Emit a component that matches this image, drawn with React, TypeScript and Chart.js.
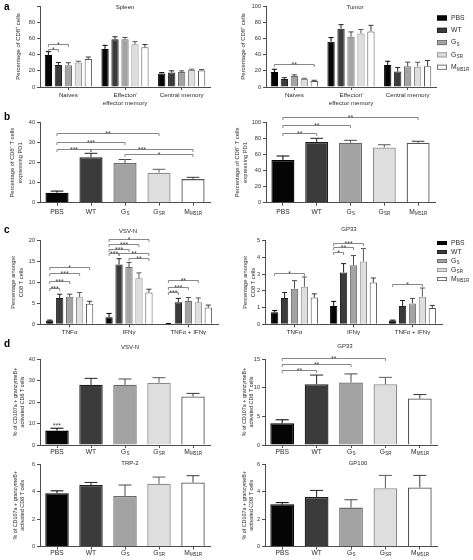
import React, { useEffect, useRef } from "react";
import { Chart, registerables } from "chart.js";
Chart.register(...registerables);

const W = 473;
const H = 560;
const YW = 28;
const FONT = "'Liberation Sans', Arial, Helvetica, sans-serif";
const AXIS = "#4d4d4d";
const TEXT = "#2a2a2a";
const BRACKET = "#6a6a6a";

// ---- groups ----
const groupNames = ["PBS", "WT", "G", "G", "M"];
const groupSubs = ["", "", "S", "SR", "M51R"];
const groupFills = ["#050505", "#3b3b3b", "#a3a3a3", "#dedede", "#ffffff"];
const groupBorders = ["#000000", "#1e1e1e", "#6a6a6a", "#8c8c8c", "#555555"];
const errColors = ["#000000", "#222222", "#4a4a4a", "#5a5a5a", "#3a3a3a"];

// ---- categories ----
const subsetLabels = [["Naives"], ["Effector/", "effector memory"], ["Central memory"]];
const cytokineLabels = [["TNFα"], ["IFNγ"], ["TNFα + IFNγ"]];

// ---- panel a : Spleen ----
const spleenMean = [
  [39.6, 47.0, 16.8],
  [27.3, 58.8, 18.0],
  [27.0, 58.8, 18.4],
  [30.2, 52.7, 21.0],
  [34.7, 49.0, 20.4],
];
const spleenErr = [
  [4.1, 4.4, 1.0],
  [2.9, 3.2, 2.0],
  [3.0, 2.4, 1.5],
  [1.6, 3.3, 1.0],
  [2.3, 3.5, 1.0],
];
const spleenSig = [
  { from: [0, 0], to: [1, 0], y: 46.5, label: "*" },
  { from: [0, 0], to: [2, 0], y: 53.4, label: "*" },
];

// ---- panel a : Tumor ----
const tumorMean = [
  [18.4, 56.0, 27.3],
  [10.0, 72.0, 19.0],
  [13.5, 62.0, 25.7],
  [10.0, 66.0, 25.0],
  [7.5, 68.6, 25.7],
];
const tumorErr = [
  [3.5, 5.0, 4.5],
  [1.5, 5.0, 5.0],
  [1.5, 6.0, 5.0],
  [0.8, 5.0, 5.5],
  [0.8, 7.5, 7.0],
];
const tumorSig = [{ from: [0, 0], to: [4, 0], y: 28.4, label: "**" }];

// ---- panel b ----
const pd1SpleenMean = [5.0, 22.7, 19.8, 15.0, 11.8];
const pd1SpleenErr = [0.8, 2.0, 1.8, 1.7, 0.9];
const pd1SpleenSig = [
  { from: [0, 0], to: [0, 3], y: 34.9, label: "**" },
  { from: [0, 0], to: [0, 2], y: 30.5, label: "***" },
  { from: [0, 0], to: [0, 1], y: 26.7, label: "***" },
  { from: [0, 1], to: [0, 4], y: 26.7, label: "***" },
  { from: [0, 2], to: [0, 4], y: 24.4, label: "*" },
];
const pd1TumorMean = [53.0, 75.5, 74.5, 68.5, 74.5];
const pd1TumorErr = [5.0, 4.5, 3.0, 3.5, 1.8];
const pd1TumorSig = [
  { from: [0, 0], to: [0, 4], y: 106, label: "**" },
  { from: [0, 0], to: [0, 2], y: 97, label: "**" },
  { from: [0, 0], to: [0, 1], y: 87, label: "**" },
];

// ---- panel c ----
const vsvMean = [
  [0.9, 1.7, 0.15],
  [6.3, 14.3, 5.3],
  [6.6, 13.7, 5.6],
  [6.5, 11.0, 5.3],
  [4.9, 7.6, 4.0],
];
const vsvErr = [
  [0.1, 0.9, 0.05],
  [0.9, 1.4, 0.9],
  [0.6, 1.1, 0.8],
  [1.1, 1.3, 1.0],
  [0.6, 0.8, 0.6],
];
const vsvSig = [
  { from: [0, 0], to: [1, 0], y: 8.6, label: "***" },
  { from: [0, 0], to: [2, 0], y: 10.4, label: "***" },
  { from: [0, 0], to: [3, 0], y: 12.2, label: "***" },
  { from: [0, 0], to: [4, 0], y: 13.8, label: "*" },
  { from: [0, 1], to: [4, 1], y: 20.3, label: "*" },
  { from: [0, 1], to: [3, 1], y: 19.2, label: "***" },
  { from: [0, 1], to: [2, 1], y: 18.1, label: "***" },
  { from: [0, 1], to: [1, 1], y: 17.0, label: "***" },
  { from: [1, 1], to: [4, 1], y: 17.0, label: "**" },
  { from: [2, 1], to: [4, 1], y: 15.9, label: "**" },
  { from: [0, 2], to: [1, 2], y: 7.8, label: "***" },
  { from: [0, 2], to: [2, 2], y: 9.0, label: "***" },
  { from: [0, 2], to: [3, 2], y: 10.6, label: "**" },
];
const gp33Mean = [
  [0.72, 1.1, 0.22],
  [1.57, 3.1, 1.1],
  [2.13, 3.53, 1.25],
  [2.25, 3.75, 1.65],
  [1.6, 2.5, 0.98],
];
const gp33Err = [
  [0.1, 0.27, 0.03],
  [0.33, 0.53, 0.32],
  [0.48, 0.58, 0.3],
  [0.58, 0.78, 0.52],
  [0.22, 0.27, 0.15],
];
const gp33Sig = [
  { from: [0, 0], to: [3, 0], y: 3.05, label: "*" },
  { from: [0, 1], to: [1, 1], y: 4.34, label: "*" },
  { from: [0, 1], to: [2, 1], y: 4.6, label: "**" },
  { from: [0, 1], to: [3, 1], y: 4.86, label: "***" },
  { from: [0, 2], to: [3, 2], y: 2.41, label: "*" },
];

// ---- panel d ----
const vsvCytoMean = [6.7, 28.0, 28.0, 29.0, 22.6];
const vsvCytoErr = [1.1, 3.0, 2.7, 2.3, 1.4];
const vsvCytoSig = [{ from: [0, 0], to: [0, 0], y: 9.4, label: "***" }];
const gp33CytoMean = [3.8, 10.6, 10.9, 10.6, 8.1];
const gp33CytoErr = [0.6, 1.6, 1.5, 1.2, 0.7];
const gp33CytoSig = [
  { from: [0, 0], to: [0, 1], y: 13.05, label: "**" },
  { from: [0, 0], to: [0, 2], y: 14.1, label: "**" },
  { from: [0, 0], to: [0, 3], y: 15.2, label: "**" },
];
const trp2Mean = [3.88, 4.47, 3.67, 4.56, 4.66];
const trp2Err = [0.17, 0.19, 0.8, 0.49, 0.49];
const gp100Mean = [3.07, 3.6, 2.83, 4.24, 4.3];
const gp100Err = [0.12, 0.48, 0.57, 0.93, 0.87];

// ---- helpers ----
type Line = { main: string; sub: string };
const groupLines = (): Line[][] => groupNames.map((n, i) => [{ main: n, sub: groupSubs[i] }]);
const plainLines = (cats: string[][]): Line[][] => cats.map((c) => c.map((t) => ({ main: t, sub: "" })));

function drawSub(ctx: any, main: string, sub: string, x: number, y: number, size: number, align: string) {
  ctx.font = `${size}px ${FONT}`;
  const mw = ctx.measureText(main).width;
  const ss = size * 0.68;
  ctx.font = `${ss}px ${FONT}`;
  const sw = sub ? ctx.measureText(sub).width : 0;
  const total = mw + sw;
  const sx = align === "center" ? x - total / 2 : x;
  ctx.textAlign = "left";
  ctx.textBaseline = "middle";
  ctx.font = `${size}px ${FONT}`;
  ctx.fillText(main, sx, y);
  if (sub) {
    ctx.font = `${ss}px ${FONT}`;
    ctx.fillText(sub, sx + mw + 0.3, y + size * 0.32);
  }
}

function makePlugins(spec: any) {
  const errPlugin = {
    id: "errbars",
    afterDatasetsDraw(chart: any) {
      const ctx = chart.ctx;
      const ys = chart.scales.y;
      ctx.save();
      chart.data.datasets.forEach((ds: any, di: number) => {
        const meta = chart.getDatasetMeta(di);
        meta.data.forEach((el: any, i: number) => {
          const e = spec.grouped ? spec.errs[di][i] : spec.errs[0][i];
          if (!e) return;
          const v = ds.data[i];
          const top = ys.getPixelForValue(v + e);
          const half = (el.width * spec.cap) / 2;
          ctx.strokeStyle = spec.grouped ? errColors[di] : errColors[i];
          ctx.lineWidth = 1;
          ctx.beginPath();
          ctx.moveTo(el.x, el.y);
          ctx.lineTo(el.x, top);
          ctx.moveTo(el.x - half, top);
          ctx.lineTo(el.x + half, top);
          ctx.stroke();
        });
      });
      ctx.restore();
    },
  };
  const decor = {
    id: "decor",
    afterDraw(chart: any) {
      const ctx = chart.ctx;
      const xs = chart.scales.x;
      const ys = chart.scales.y;
      const ca = chart.chartArea;
      ctx.save();
      ctx.fillStyle = TEXT;
      spec.xLabels.forEach((lines: Line[], i: number) => {
        const x = xs.getPixelForValue(i);
        lines.forEach((ln, li) => drawSub(ctx, ln.main, ln.sub, x, spec.labelY + li * 8, spec.labelSize, "center"));
      });
      if (spec.title) {
        ctx.font = `${spec.title.size || 6}px ${FONT}`;
        ctx.textAlign = "center";
        ctx.textBaseline = "middle";
        ctx.fillText(spec.title.text, spec.title.x, spec.title.y);
      }
      if (spec.letter) {
        ctx.font = `bold 10px ${FONT}`;
        ctx.textAlign = "left";
        ctx.textBaseline = "middle";
        ctx.fillStyle = "#000";
        ctx.fillText(spec.letter.text, spec.letter.x, spec.letter.y);
        ctx.fillStyle = TEXT;
      }
      const yt = spec.yTitle;
      const cy = (ca.top + ca.bottom) / 2;
      ctx.font = `${yt.size}px ${FONT}`;
      ctx.textAlign = "center";
      ctx.textBaseline = "middle";
      yt.lines.forEach((t: string, li: number) => {
        ctx.save();
        ctx.translate(yt.xs[li], cy);
        ctx.rotate(-Math.PI / 2);
        ctx.fillText(t, 0, 0);
        ctx.restore();
      });
      ctx.strokeStyle = BRACKET;
      ctx.lineWidth = 0.8;
      spec.sig.forEach((b: any) => {
        const x1 = chart.getDatasetMeta(b.from[0]).data[b.from[1]].x;
        const x2 = chart.getDatasetMeta(b.to[0]).data[b.to[1]].x;
        const yy = Math.round(ys.getPixelForValue(b.y)) + 0.5;
        if (x1 !== x2) {
          ctx.beginPath();
          ctx.moveTo(x1, yy + 2.5);
          ctx.lineTo(x1, yy);
          ctx.lineTo(x2, yy);
          ctx.lineTo(x2, yy + 2.5);
          ctx.stroke();
        }
        ctx.font = `7px ${FONT}`;
        ctx.textAlign = "center";
        ctx.textBaseline = "alphabetic";
        ctx.fillStyle = "#444";
        ctx.fillText(b.label, (x1 + x2) / 2, yy + 2.6);
      });
      if (spec.legend) {
        const L = spec.legend;
        groupNames.forEach((n, i) => {
          const yy = L.y + i * L.gap;
          ctx.fillStyle = groupFills[i];
          ctx.fillRect(L.x, yy - L.boxH / 2, L.boxW, L.boxH);
          ctx.strokeStyle = groupBorders[i];
          ctx.lineWidth = 0.8;
          ctx.strokeRect(L.x + 0.4, yy - L.boxH / 2 + 0.4, L.boxW - 0.8, L.boxH - 0.8);
          ctx.fillStyle = TEXT;
          drawSub(ctx, n, groupSubs[i], L.x + L.boxW + 4, yy, L.size, "left");
        });
      }
      ctx.restore();
    },
  };
  return [errPlugin, decor];
}

function buildConfig(spec: any) {
  const [x0, x1, top, bottom] = spec.box;
  const datasets = spec.grouped
    ? spec.means.map((row: number[], gi: number) => ({
        label: groupNames[gi] + groupSubs[gi],
        data: row,
        backgroundColor: groupFills[gi],
        borderColor: groupBorders[gi],
        borderWidth: 1,
        barPercentage: spec.barPct,
        categoryPercentage: spec.catPct,
      }))
    : [
        {
          label: "mean",
          data: spec.means[0],
          backgroundColor: groupFills,
          borderColor: groupBorders,
          borderWidth: 1.3,
          barPercentage: spec.barPct,
          categoryPercentage: spec.catPct,
        },
      ];
  const labels = spec.xLabels.map((_: any, i: number) => String(i));
  return {
    type: "bar",
    data: { labels, datasets },
    plugins: makePlugins(spec),
    options: {
      responsive: false,
      animation: false,
      devicePixelRatio: 1,
      events: [],
      layout: { padding: { left: x0 - YW, right: W - x1, top: top, bottom: H - bottom } },
      plugins: { legend: { display: false }, tooltip: { enabled: false }, title: { display: false } },
      scales: {
        x: {
          afterFit: (s: any) => {
            s.height = 0;
          },
          border: { display: true, color: AXIS, width: 1 },
          grid: { drawOnChartArea: false, drawTicks: true, tickLength: 3, color: AXIS, offset: false },
          ticks: { display: false },
        },
        y: {
          min: 0,
          max: spec.max,
          afterFit: (s: any) => {
            s.width = YW;
          },
          border: { display: true, color: AXIS, width: 1 },
          grid: { drawOnChartArea: false, drawTicks: true, tickLength: 3, color: AXIS },
          ticks: {
            stepSize: spec.step,
            font: { family: FONT, size: 5.6 },
            color: "#333",
            padding: 2,
            callback: (v: any) => (spec.hideMax && v === spec.max ? "" : String(v)),
          },
        },
      },
    },
  };
}

const dYTitle = ["% of CD107a + granzymeB+", "activated CD8 T cells"];

const panels: any[] = [
  {
    box: [40, 210, 6, 87], max: 100, step: 20, hideMax: true, grouped: true,
    means: spleenMean, errs: spleenErr, sig: spleenSig,
    xLabels: plainLines(subsetLabels), labelY: 95, labelSize: 6.2,
    title: { text: "Spleen", x: 125, y: 7 }, letter: { text: "a", x: 4, y: 7 },
    yTitle: { lines: ["Percentage of CD8⁺ cells"], xs: [18], size: 6 },
    barPct: 0.73, catPct: 0.88, cap: 0.7,
  },
  {
    box: [266, 436, 6, 87], max: 100, step: 20, grouped: true,
    means: tumorMean, errs: tumorErr, sig: tumorSig,
    xLabels: plainLines(subsetLabels), labelY: 95, labelSize: 6.2,
    title: { text: "Tumor", x: 355, y: 7 },
    yTitle: { lines: ["Percentage of CD8⁺ cells"], xs: [243], size: 6 },
    legend: { x: 437, y: 18, gap: 12.3, boxW: 10, boxH: 5, size: 6.8 },
    barPct: 0.73, catPct: 0.88, cap: 0.7,
  },
  {
    box: [40, 210, 122.7, 202.7], max: 40, step: 10, grouped: false,
    means: [pd1SpleenMean], errs: [pd1SpleenErr], sig: pd1SpleenSig,
    xLabels: groupLines(), labelY: 212, labelSize: 6.7,
    letter: { text: "b", x: 4, y: 117 },
    yTitle: { lines: ["Percentage of CD8⁺ T cells", "expressing PD1"], xs: [12, 20], size: 5.8 },
    barPct: 0.68, catPct: 1, cap: 0.55,
  },
  {
    box: [266, 435, 122.2, 202.7], max: 100, step: 20, grouped: false,
    means: [pd1TumorMean], errs: [pd1TumorErr], sig: pd1TumorSig,
    xLabels: groupLines(), labelY: 212, labelSize: 6.7,
    yTitle: { lines: ["Percentage of CD8⁺ T cells", "expressing PD1"], xs: [237, 245], size: 5.8 },
    barPct: 0.68, catPct: 1, cap: 0.55,
  },
  {
    box: [40, 218, 240.7, 324.3], max: 20, step: 5, grouped: true,
    means: vsvMean, errs: vsvErr, sig: vsvSig,
    xLabels: plainLines(cytokineLabels), labelY: 332.7, labelSize: 6.2,
    title: { text: "VSV-N", x: 128, y: 231 }, letter: { text: "c", x: 4, y: 230 },
    yTitle: { lines: ["Percentage amongst", "CD8 T cells"], xs: [13, 21], size: 5.7 },
    barPct: 0.73, catPct: 0.84, cap: 0.7,
  },
  {
    box: [265, 442, 240.7, 324.3], max: 5, step: 1, grouped: true,
    means: gp33Mean, errs: gp33Err, sig: gp33Sig,
    xLabels: plainLines(cytokineLabels), labelY: 332.7, labelSize: 6.2,
    title: { text: "GP33", x: 349, y: 229 },
    yTitle: { lines: ["Percentage amongst", "CD8 T cells"], xs: [245, 253], size: 5.7 },
    legend: { x: 437, y: 243, gap: 9, boxW: 10, boxH: 4, size: 6.8 },
    barPct: 0.73, catPct: 0.84, cap: 0.7,
  },
  {
    box: [40, 210, 359, 445], max: 40, step: 10, grouped: false,
    means: [vsvCytoMean], errs: [vsvCytoErr], sig: vsvCytoSig,
    xLabels: groupLines(), labelY: 452, labelSize: 6.7,
    title: { text: "VSV-N", x: 130, y: 347 }, letter: { text: "d", x: 4, y: 344 },
    yTitle: { lines: dYTitle, xs: [16, 23], size: 5.4 },
    barPct: 0.69, catPct: 1, cap: 0.55,
  },
  {
    box: [265, 437, 359, 445], max: 15, step: 5, grouped: false,
    means: [gp33CytoMean], errs: [gp33CytoErr], sig: gp33CytoSig,
    xLabels: groupLines(), labelY: 452, labelSize: 6.7,
    title: { text: "GP33", x: 345, y: 346 },
    yTitle: { lines: dYTitle, xs: [245, 252], size: 5.4 },
    barPct: 0.69, catPct: 1, cap: 0.55,
  },
  {
    box: [40, 210, 464, 546.5], max: 6, step: 2, grouped: false,
    means: [trp2Mean], errs: [trp2Err], sig: [],
    xLabels: groupLines(), labelY: 553, labelSize: 6.7,
    title: { text: "TRP-2", x: 130, y: 463 },
    yTitle: { lines: dYTitle, xs: [16, 23], size: 5.4 },
    barPct: 0.69, catPct: 1, cap: 0.55,
  },
  {
    box: [265, 437, 464, 546.5], max: 6, step: 2, grouped: false,
    means: [gp100Mean], errs: [gp100Err], sig: [],
    xLabels: groupLines(), labelY: 553, labelSize: 6.7,
    title: { text: "GP100", x: 358, y: 463 },
    yTitle: { lines: dYTitle, xs: [245, 252], size: 5.4 },
    barPct: 0.69, catPct: 1, cap: 0.55,
  },
];

function ChartPanel({ spec }: { spec: any }) {
  const ref = useRef<HTMLCanvasElement | null>(null);
  useEffect(() => {
    const chart = new Chart(ref.current as HTMLCanvasElement, buildConfig(spec) as any);
    return () => chart.destroy();
  }, [spec]);
  return (
    <canvas
      ref={ref}
      width={W}
      height={H}
      style={{ position: "absolute", left: 0, top: 0, width: W, height: H }}
    />
  );
}

export default function App() {
  return (
    <div style={{ position: "fixed", left: 0, top: 0, width: W, height: H, background: "#fff", overflow: "hidden" }}>
      {panels.map((p, i) => (
        <ChartPanel key={i} spec={p} />
      ))}
    </div>
  );
}
